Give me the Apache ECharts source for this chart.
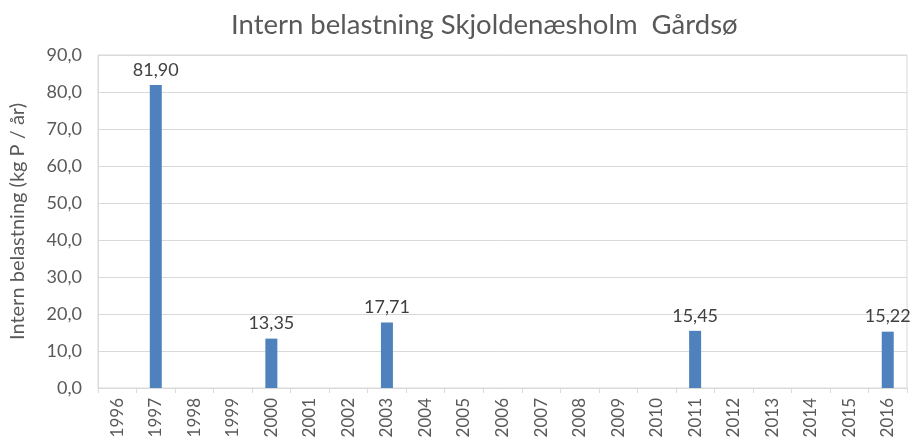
<!DOCTYPE html>
<html>
<head>
<meta charset="utf-8">
<script src="https://cdn.jsdelivr.net/npm/echarts@6/dist/echarts.min.js"></script>
<style>
	html, body { margin: 0; padding: 0; background: #fff; }
	#chart { width: 912px; height: 441px; }
</style>
</head>
<body>
<div id="chart"></div>
<script>
// years on the category axis
var years = ['1996', '1997', '1998', '1999', '2000', '2001', '2002', '2003', '2004', '2005', '2006',
	'2007', '2008', '2009', '2010', '2011', '2012', '2013', '2014', '2015', '2016'];
// intern belastning, kg P / år (null = no measurement)
var belastning = [null, 81.90, null, null, 13.35, null, null, 17.71, null, null, null,
	null, null, null, null, 15.45, null, null, null, null, 15.22];

var chart = echarts.init(document.getElementById('chart'));
var font = 'Lato, "Liberation Sans", sans-serif';

var option = {
	animation: false,
	textStyle: { fontFamily: font },
	title: {
		text: 'Intern belastning Skjoldenæsholm  Gårdsø',
		left: 226,
		top: 6,
		textStyle: { fontFamily: font, fontSize: 27.5, fontWeight: 'normal', color: '#595959' }
	},
	grid: {
		left: 98,
		right: 5,
		top: 55,
		bottom: 53,
		outerBoundsMode: 'none',
		containLabel: false,
		show: true,
		borderColor: '#d9d9d9',
		borderWidth: 1
	},
	xAxis: {
		type: 'category',
		data: years,
		axisLine: { lineStyle: { color: '#d9d9d9' } },
		axisTick: { show: true, alignWithLabel: false, length: 5, lineStyle: { color: '#d9d9d9' } },
		axisLabel: { rotate: 90, color: '#595959', fontSize: 17, margin: 10 }
	},
	yAxis: {
		type: 'value',
		min: 0,
		max: 90,
		interval: 10,
		name: 'Intern belastning (kg P / år)',
		nameLocation: 'middle',
		nameGap: 70,
		nameTextStyle: { color: '#595959', fontSize: 20 },
		axisLine: { show: true, lineStyle: { color: '#d9d9d9' } },
		axisLabel: {
			color: '#595959',
			fontSize: 18,
			margin: 16,
			formatter: function (v) { return v.toFixed(1).replace('.', ','); }
		},
		splitLine: { lineStyle: { color: '#d9d9d9' } }
	},
	series: [{
		type: 'bar',
		data: belastning,
		barWidth: 12,
		itemStyle: { color: '#4f81bd' },
		label: {
			show: true,
			position: 'top',
			distance: 6,
			color: '#404040',
			fontSize: 18,
			formatter: function (p) { return p.value.toFixed(2).replace('.', ','); }
		}
	}]
};

chart.setOption(option);
</script>
</body>
</html>
